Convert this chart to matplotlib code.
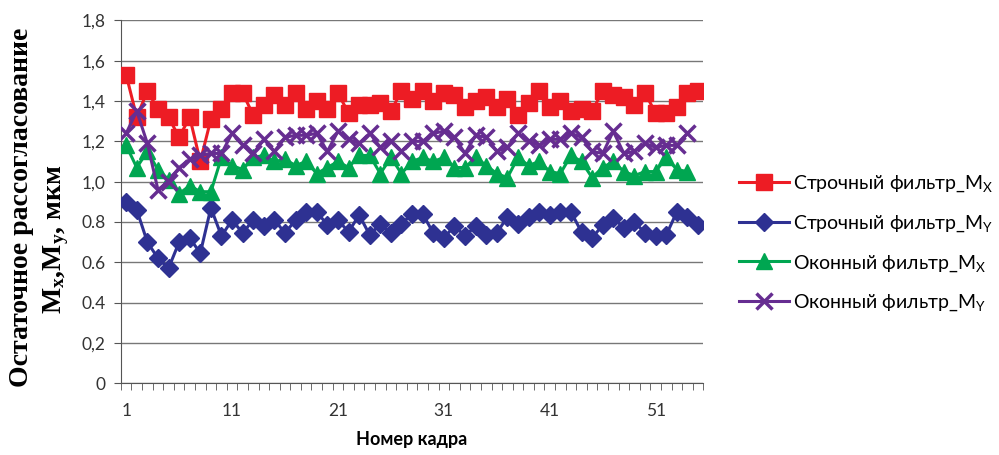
import numpy as np
import matplotlib
matplotlib.use("Agg")
import matplotlib.pyplot as plt

# ---------------------------
# Data
# ---------------------------

row_mx = [1.53, 1.32, 1.45, 1.36, 1.32, 1.22, 1.32, 1.10, 1.31, 1.36,
          1.44, 1.44, 1.33, 1.38, 1.43, 1.38, 1.44, 1.36, 1.40, 1.36,
          1.44, 1.34, 1.38, 1.38, 1.39, 1.35, 1.45, 1.41, 1.45, 1.40,
          1.44, 1.43, 1.37, 1.40, 1.42, 1.37, 1.41, 1.33, 1.39, 1.45,
          1.37, 1.40, 1.35, 1.36, 1.35, 1.45, 1.43, 1.42, 1.38, 1.44,
          1.34, 1.34, 1.37, 1.44, 1.45]

row_my = [0.90, 0.86, 0.70, 0.62, 0.57, 0.70, 0.72, 0.645, 0.87, 0.73,
          0.81, 0.745, 0.81, 0.78, 0.81, 0.745, 0.81, 0.85, 0.85, 0.785,
          0.81, 0.75, 0.835, 0.735, 0.79, 0.745, 0.79, 0.84, 0.84, 0.745,
          0.72, 0.78, 0.73, 0.78, 0.735, 0.745, 0.825, 0.79, 0.825, 0.85,
          0.835, 0.85, 0.85, 0.75, 0.72, 0.785, 0.82, 0.77, 0.80, 0.745,
          0.73, 0.735, 0.85, 0.825, 0.785]

win_mx = [1.18, 1.07, 1.15, 1.06, 1.01, 0.94, 0.98, 0.95, 0.95, 1.12,
          1.08, 1.06, 1.12, 1.13, 1.10, 1.11, 1.08, 1.10, 1.04, 1.07,
          1.10, 1.07, 1.13, 1.13, 1.04, 1.12, 1.04, 1.10, 1.12, 1.10,
          1.12, 1.07, 1.07, 1.12, 1.08, 1.04, 1.02, 1.12, 1.08, 1.10,
          1.05, 1.04, 1.13, 1.10, 1.02, 1.07, 1.10, 1.05, 1.03, 1.05,
          1.05, 1.12, 1.06, 1.05]

win_my = [1.24, 1.35, 1.19, 0.96, 1.00, 1.07, 1.11, 1.13, 1.14, 1.14,
          1.24, 1.18, 1.14, 1.21, 1.15, 1.22, 1.23, 1.23, 1.24, 1.15,
          1.25, 1.21, 1.19, 1.24, 1.17, 1.20, 1.15, 1.20, 1.20, 1.24,
          1.25, 1.22, 1.14, 1.23, 1.22, 1.15, 1.17, 1.24, 1.20, 1.18,
          1.21, 1.21, 1.24, 1.22, 1.15, 1.14, 1.25, 1.14, 1.15, 1.19,
          1.17, 1.18, 1.18, 1.24]

labels = [r"Строчный фильтр_M$_\mathrm{X}$",
          r"Строчный фильтр_M$_\mathrm{Y}$",
          r"Оконный фильтр_M$_\mathrm{X}$",
          r"Оконный фильтр_M$_\mathrm{Y}$"]

y_ticks = [0, 0.2, 0.4, 0.6, 0.8, 1.0, 1.2, 1.4, 1.6, 1.8]
y_tick_labels = ["0", "0,2", "0.4", "0.6", "0.8", "1,0", "1,2", "1,4", "1,6", "1,8"]
x_ticks = [1, 11, 21, 31, 41, 51]

# ---------------------------
# Style
# ---------------------------

plt.rcParams["font.family"] = ["Lato", "DejaVu Sans"]
plt.rcParams["mathtext.fontset"] = "custom"
plt.rcParams["mathtext.rm"] = "Lato"
plt.rcParams["mathtext.bf"] = "Liberation Serif:bold"

RED = "#ED1C24"
BLUE = "#2E3192"
GREEN = "#00A651"
PURPLE = "#662D91"

fig = plt.figure(figsize=(9.99, 4.55), dpi=100)
ax = fig.add_axes([0.121, 0.158, 0.583, 0.797])

x55 = np.arange(1, len(row_mx) + 1)
x54 = np.arange(1, len(win_mx) + 1)

ax.plot(x55, row_mx, color=RED, lw=2.2, marker="s", ms=11, label=labels[0], zorder=3)
ax.plot(x55, row_my, color=BLUE, lw=2.2, marker="D", ms=9, label=labels[1], zorder=3)
ax.plot(x54, win_mx, color=GREEN, lw=2.2, marker="^", ms=12, label=labels[2], zorder=3)
ax.plot(x54, win_my, color=PURPLE, lw=2.2, marker="x", ms=11, mew=2.5, label=labels[3], zorder=3)

ax.set_xlim(0.5, 55.5)
ax.set_ylim(0, 1.8)
ax.set_yticks(y_ticks)
ax.set_yticklabels(y_tick_labels, fontsize=12.5, color="#333333")
ax.set_xticks(x_ticks)
ax.set_xticklabels([str(t) for t in x_ticks], fontsize=12.5, color="#333333")
ax.set_xticks(np.arange(0.5, 56, 1), minor=True)
ax.tick_params(axis="x", which="major", length=0, pad=14)
ax.tick_params(axis="x", which="minor", length=5, direction="out", color="#555555")
ax.tick_params(axis="y", length=5, color="#555555", pad=6)

ax.grid(axis="y", color="#777777", lw=1)
ax.set_axisbelow(True)
for s in ["top", "right"]:
    ax.spines[s].set_visible(False)
for s in ["left", "bottom"]:
    ax.spines[s].set_color("#555555")

ax.set_xlabel("Номер кадра", fontsize=13, fontweight="bold", labelpad=9)

# y label: two rotated lines, bold serif
fig.text(0.022, 0.545, "Остаточное рассогласование", rotation=90,
         ha="center", va="center", fontsize=20, fontweight="bold",
         family=["Liberation Serif", "DejaVu Serif"])
fig.text(0.056, 0.475, r"$\mathbf{M_x{,}M_y{,}}$ мкм", rotation=90,
         ha="center", va="center", fontsize=20, fontweight="bold",
         family=["Liberation Serif", "DejaVu Serif"])

leg = fig.legend(loc="center left", bbox_to_anchor=(0.722, 0.465), frameon=False,
                 fontsize=14, handlelength=2.6, labelspacing=0.98, handletextpad=0.2)

fig.savefig("out.png", dpi=100)
